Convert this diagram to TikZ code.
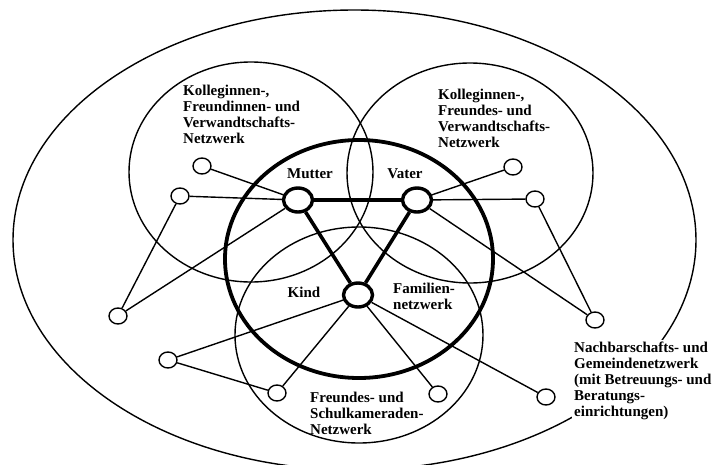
\documentclass[tikz,border=0pt]{standalone}
\usepackage{fontspec}
\setmainfont{Liberation Serif}
\usetikzlibrary{shapes.geometric}
\begin{document}
\begin{tikzpicture}[x=1pt,y=-1pt,
  thinring/.style={line width=1.4pt},
  famring/.style={line width=3.8pt},
  person/.style={draw, ellipse, line width=3.4pt, minimum width=29pt, minimum height=24pt, inner sep=0pt, fill=white},
  contact/.style={draw, ellipse, line width=1.4pt, minimum width=18pt, minimum height=16pt, inner sep=0pt, fill=white},
  tie/.style={line width=1.4pt},
  famtie/.style={line width=3.6pt},
  lbl/.style={font=\fontsize{15}{16}\selectfont\bfseries, inner sep=0pt, align=left}
]
\useasboundingbox (0,0) rectangle (716,464);
\clip (0,0) rectangle (716,464);
% networks
\draw[thinring] (354.5,240) ellipse [x radius=341.5, y radius=230];
\draw[thinring] (251,172) ellipse [x radius=122, y radius=110];
\draw[thinring] (470,173) ellipse [x radius=123, y radius=110];
\draw[thinring] (359,335) ellipse [x radius=124, y radius=108];
\draw[famring] (359,259) ellipse [x radius=134, y radius=119];
% persons
\node[person] (M) at (298,200) {};
\node[person] (V) at (417,200) {};
\node[person] (K) at (358,295) {};
% contacts
\node[contact] (c1) at (202,166) {};
\node[contact] (c2) at (180,196) {};
\node[contact] (c3) at (118,316) {};
\node[contact] (c4) at (168,360) {};
\node[contact] (c5) at (277,393) {};
\node[contact] (c6) at (438,394) {};
\node[contact] (c7) at (546,397) {};
\node[contact] (c8) at (595,320) {};
\node[contact] (c9) at (513,167) {};
\node[contact] (c10) at (535,199) {};
% ties
\draw[famtie] (M) -- (V) (M) -- (K) (V) -- (K);
\draw[tie] (M) -- (c1) (M) -- (c2) (M) -- (c3) (c2) -- (c3)
  (K) -- (c4) (c4) -- (c5) (K) -- (c5) (K) -- (c6) (K) -- (c7)
  (V) -- (c9) (V) -- (c10) (V) -- (c8) (c10) -- (c8);
% labels
\node[lbl, anchor=north west] (t1) at (183,85) {Kolleginnen-,\\Freundinnen- und\\Verwandtschafts-\\Netzwerk};
\node[lbl, anchor=north west] (t2) at (438,89) {Kolleginnen-,\\Freundes- und\\Verwandtschafts-\\Netzwerk};
\node[lbl, anchor=base] (tm) at (310,178) {Mutter};
\node[lbl, anchor=base] (tv) at (405,178) {Vater};
\node[lbl, anchor=base] (tk) at (304,297) {Kind};
\node[lbl, anchor=north west] (tf) at (393,283) {Familien-\\netzwerk};
\node[lbl, anchor=north west] (ts) at (310,392) {Freundes- und\\Schulkameraden-\\Netzwerk};
\node[lbl, anchor=north west, inner sep=2pt, fill=white] (tn) at (572,340) {Nachbarschafts- und\\Gemeindenetzwerk\\(mit Betreuungs- und\\Beratungs-\\einrichtungen)};
\end{tikzpicture}
\end{document}
